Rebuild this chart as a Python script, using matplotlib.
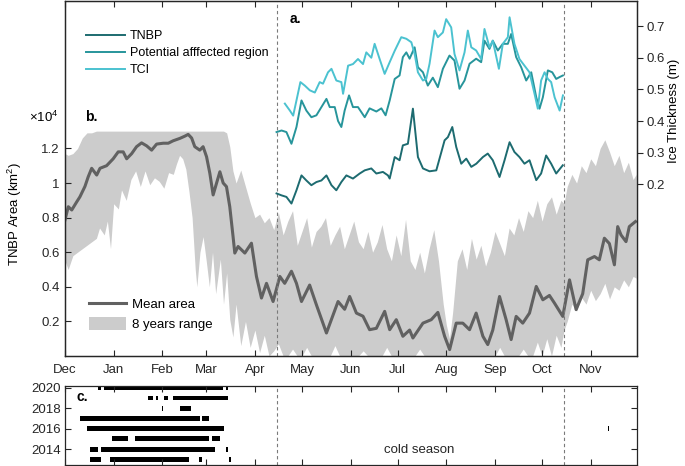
import matplotlib
matplotlib.use("Agg")
import matplotlib.pyplot as plt
import numpy as np

plt.rcParams['font.family'] = ['Liberation Sans', 'DejaVu Sans']
plt.rcParams['mathtext.fontset'] = 'custom'
plt.rcParams['mathtext.rm'] = 'Liberation Sans'

# days counted from 1 Dec
month_names = ["Dec", "Jan", "Feb", "Mar", "Apr", "May", "Jun",
               "Jul", "Aug", "Sep", "Oct", "Nov"]
month_start = [0, 31, 62, 90, 121, 151, 182, 212, 243, 274, 304, 335]
cold_start, cold_end = 135, 318

# TNBP area, x10^4 km2
mean_day = [0, 2.1, 4.3, 7.4, 9.5, 12.7, 14.8, 17, 20.2, 22.3, 26.5, 30.7, 33.9, 37.1,
            39.3, 42.5, 45.6, 48.8, 52, 55.2, 58.4, 62.6, 65.8, 68.9, 73.2, 76.4, 78.5,
            80.7, 82.7, 85.9, 88, 90.2, 92.3, 94.4, 96.6, 98.7, 100.8, 102.9, 105, 107.1,
            108.2, 110.3, 114.6, 118.8, 122, 125.2, 128.4, 132.6, 136.9, 140, 144.3,
            147.5, 150.7, 155.9, 160.2, 166.6, 174, 178.2, 181.4, 185.7, 189.9, 194.1,
            198.4, 203.7, 206.9, 211.1, 215.3, 219.6, 221.7, 228.1, 233.4, 237.6, 241.9,
            245.1, 249.3, 253.5, 257.8, 262, 266.3, 269.4, 272.6, 276.9, 281.1, 284.3,
            287.5, 291.7, 296, 300.3, 304.5, 308.7, 311.9, 317.2, 321.5, 325.7, 329.9,
            333.1, 337.4, 340.5, 343.7, 346.9, 350.1, 352.2, 354.3, 357.5, 359.6, 363.5]
mean_area = [0.787, 0.863, 0.844, 0.89, 0.92, 0.98, 1.036, 1.085, 1.046, 1.085, 1.10, 1.14,
             1.18, 1.18, 1.14, 1.17, 1.21, 1.232, 1.215, 1.19, 1.225, 1.23, 1.23, 1.244,
             1.258, 1.271, 1.281, 1.26, 1.21, 1.19, 1.21, 1.152, 1.056, 0.931, 1.0, 1.065,
             1.0, 0.979, 0.863, 0.69, 0.595, 0.633, 0.595, 0.652, 0.46, 0.335, 0.42,
             0.315, 0.46, 0.42, 0.49, 0.42, 0.315, 0.41, 0.296, 0.133, 0.315, 0.27, 0.344,
             0.248, 0.23, 0.152, 0.16, 0.258, 0.152, 0.21, 0.114, 0.15, 0.104, 0.19, 0.21,
             0.252, 0.114, 0.037, 0.19, 0.19, 0.152, 0.248, 0.114, 0.066, 0.15, 0.344,
             0.21, 0.095, 0.229, 0.19, 0.248, 0.402, 0.325, 0.35, 0.306, 0.229, 0.44,
             0.268, 0.36, 0.556, 0.575, 0.556, 0.681, 0.65, 0.527, 0.748, 0.70, 0.661,
             0.748, 0.777]

band_day = [0, 2, 5, 8, 11, 14, 17, 20, 22, 25, 27, 29, 31, 34, 36, 39, 42, 45, 48, 51,
            54, 57, 60, 63, 66, 69, 71, 73, 75, 77, 79, 81, 83, 84, 86, 88, 90, 92, 94,
            96, 99, 101, 103, 105, 107, 109, 112, 115, 118, 121, 124, 127, 130, 133, 136,
            139, 142, 145, 148, 151, 154, 157, 160, 163, 166, 169, 172, 175, 178, 181,
            184, 187, 190, 193, 196, 199, 202, 205, 208, 211, 214, 217, 220, 223, 226,
            229, 232, 235, 238, 241, 243, 245, 247, 250, 253, 256, 259, 262, 265, 268,
            271, 274, 277, 280, 283, 286, 289, 292, 295, 298, 301, 304, 307, 310, 313,
            316, 318, 320, 323, 326, 329, 332, 335, 338, 341, 344, 347, 350, 353, 356,
            359, 362, 364]
band_hi = [1.17, 1.16, 1.17, 1.20, 1.26, 1.29, 1.29, 1.30, 1.30, 1.30, 1.30, 1.30, 1.30,
           1.30, 1.30, 1.30, 1.30, 1.30, 1.30, 1.30, 1.30, 1.30, 1.30, 1.30, 1.30, 1.30,
           1.30, 1.30, 1.30, 1.30, 1.30, 1.30, 1.30, 1.30, 1.30, 1.30, 1.30, 1.30, 1.30,
           1.30, 1.30, 1.30, 1.29, 1.21, 1.07, 1.00, 1.075, 0.98, 0.885, 0.80, 0.82,
           0.77, 0.80, 0.73, 0.83, 0.70, 0.78, 0.84, 0.64, 0.72, 0.80, 0.63, 0.72, 0.75,
           0.80, 0.64, 0.70, 0.75, 0.62, 0.70, 0.78, 0.66, 0.62, 0.72, 0.60, 0.66, 0.76,
           0.62, 0.55, 0.70, 0.58, 0.79, 0.55, 0.50, 0.60, 0.48, 0.62, 0.73, 0.55, 0.30,
           0.18, 0.10, 0.25, 0.55, 0.62, 0.50, 0.68, 0.56, 0.64, 0.52, 0.60, 0.72, 0.65,
           0.58, 0.74, 0.70, 0.80, 0.72, 0.84, 0.80, 0.90, 0.78, 0.88, 0.92, 0.82, 0.90,
           0.88, 0.98, 1.05, 1.00, 1.10, 1.06, 1.14, 1.10, 1.20, 1.25, 1.18, 1.10, 1.16,
           1.06, 1.12, 1.02, 1.05]
band_lo = [0.55, 0.50, 0.58, 0.60, 0.62, 0.64, 0.66, 0.68, 0.74, 0.70, 0.78, 0.62, 0.88,
           0.85, 0.96, 0.90, 1.02, 1.07, 0.98, 1.07, 0.99, 1.03, 1.01, 0.97, 1.06, 1.05,
           1.11, 1.16, 1.14, 1.08, 0.95, 0.80, 0.50, 0.40, 0.60, 0.69, 0.55, 0.40, 0.60,
           0.36, 0.56, 0.30, 0.48, 0.21, 0.11, 0.30, 0.06, 0.20, 0.05, 0.15, 0.02, 0.12,
           0.0, 0.03, 0.07, 0.0, 0.0, 0.04, 0.0, 0.0, 0.05, 0.0, 0.0, 0.0, 0.0, 0.0, 0.06,
           0.0, 0.0, 0.0, 0.0, 0.0, 0.03, 0.0, 0.0, 0.0, 0.0, 0.05, 0.0, 0.0, 0.0, 0.0,
           0.0, 0.0, 0.04, 0.0, 0.0, 0.0, 0.0, 0.0, 0.0, 0.0, 0.0, 0.0, 0.0, 0.0, 0.0,
           0.0, 0.0, 0.0, 0.0, 0.0, 0.05, 0.0, 0.0, 0.0, 0.0, 0.04, 0.0, 0.0, 0.08, 0.0,
           0.10, 0.0, 0.12, 0.05, 0.15, 0.20, 0.30, 0.26, 0.34, 0.30, 0.38, 0.32, 0.36,
           0.42, 0.33, 0.40, 0.38, 0.44, 0.40, 0.46, 0.45]

# ice thickness, m
tnbp_day = [134.8, 137.9, 141.1, 144.3, 147.5, 150.7, 153.8, 157, 160.2, 163.4, 166.6,
            169.8, 172.9, 176.1, 179.3, 183.5, 187.8, 191, 195.2, 198.4, 202.6, 205.8,
            206.9, 210.1, 213.2, 215.3, 218.5, 221.7, 224.9, 228.1, 232.3, 236.6, 241.9,
            244, 246.8, 249.3, 252.5, 255.7, 258.9, 262.1, 266.3, 269.4, 272.6, 276.9,
            280.1, 283.3, 286.4, 289.6, 292.8, 296, 300.3, 303.4, 306.6, 309.8, 313, 317.2]
tnbp_thk = [0.171, 0.165, 0.16, 0.139, 0.181, 0.228, 0.212, 0.197, 0.207, 0.212, 0.228,
            0.197, 0.181, 0.207, 0.228, 0.218, 0.234, 0.244, 0.25, 0.234, 0.239, 0.228,
            0.218, 0.286, 0.276, 0.323, 0.328, 0.439, 0.286, 0.25, 0.241, 0.244, 0.339,
            0.349, 0.381, 0.318, 0.265, 0.281, 0.255, 0.265, 0.286, 0.297, 0.276, 0.223,
            0.276, 0.333, 0.302, 0.286, 0.265, 0.276, 0.213, 0.234, 0.291, 0.265, 0.234, 0.26]

par_day = [134.8, 138, 141.1, 144.3, 147.5, 150.7, 153.8, 157, 160.2, 163.4, 166.6, 168.7,
           171.9, 174, 176.1, 178.2, 181, 183.5, 186.7, 191, 194.1, 198.4, 201.6, 204.3,
           206.9, 210.1, 213.2, 215.3, 217.5, 219.6, 222.8, 224.9, 228.1, 231.2, 234.4,
           237.6, 240.8, 245, 248.2, 251.4, 254.6, 257.8, 262, 265.2, 267.3, 270.5, 272.6,
           275.8, 279, 282.2, 284.3, 287.5, 290.7, 293.9, 297.1, 300.3, 302.4, 304.5,
           307.7, 310.5, 313, 315.2, 317.3]
par_thk = [0.365, 0.37, 0.365, 0.328, 0.381, 0.465, 0.433, 0.412, 0.418, 0.444, 0.47, 0.444,
           0.444, 0.4, 0.381, 0.433, 0.481, 0.444, 0.444, 0.412, 0.44, 0.43, 0.44, 0.418,
           0.465, 0.533, 0.544, 0.602, 0.617, 0.597, 0.633, 0.57, 0.554, 0.512, 0.537,
           0.507, 0.565, 0.607, 0.591, 0.502, 0.528, 0.581, 0.597, 0.586, 0.654, 0.628,
           0.654, 0.623, 0.644, 0.644, 0.675, 0.602, 0.57, 0.528, 0.554, 0.475, 0.439,
           0.475, 0.56, 0.554, 0.533, 0.539, 0.544]

tci_day = [140.1, 143.3, 145.4, 147.5, 150, 152.8, 156, 159.2, 162.3, 164.4, 167.6, 169.8,
           172.9, 176.1, 177.2, 180.4, 183.5, 186.7, 189.9, 192, 195.2, 197.3, 200.5,
           203.7, 206.9, 210.1, 214.3, 217.5, 220.7, 222.8, 224.9, 228.1, 230.2, 232.3,
           235.5, 237.6, 240.8, 242.9, 246.1, 248.2, 251.4, 254.6, 256.7, 258.9, 262,
           265.2, 267.3, 270.5, 272.6, 276.5, 279, 282.2, 283.3, 286.4, 289.6, 292.8, 296,
           299.2, 301.3, 303.4, 305.6, 307.7, 309.8, 312, 315.2, 317.3]
tci_thk = [0.455, 0.433, 0.417, 0.465, 0.523, 0.512, 0.497, 0.49, 0.523, 0.518, 0.554,
           0.565, 0.528, 0.523, 0.486, 0.575, 0.58, 0.596, 0.58, 0.617, 0.60, 0.644, 0.596,
           0.549, 0.586, 0.622, 0.665, 0.66, 0.649, 0.612, 0.554, 0.528, 0.533, 0.581,
           0.686, 0.665, 0.68, 0.722, 0.696, 0.612, 0.56, 0.617, 0.686, 0.633, 0.623,
           0.596, 0.691, 0.633, 0.654, 0.565, 0.644, 0.665, 0.728, 0.644, 0.596, 0.575,
           0.554, 0.486, 0.439, 0.528, 0.554, 0.533, 0.523, 0.475, 0.433, 0.481]

# panel c: open periods per year (start day, length in days)
years = [2020, 2019, 2018, 2017, 2016, 2015, 2014, 2013]
periods = [
    [(21.2, 1.7), (25, 75.4), (102.9, 1)],
    [(53, 2.8), (58, 1), (62.8, 2.8), (68.7, 35.1)],
    [(61.7, 1), (73.4, 6.6)],
    [(9.8, 76.1), (87.6, 4.1)],
    [(13.8, 87.8), (345.9, 1)],
    [(29.9, 10), (44.8, 47.1), (93.8, 4.9)],
    [(15.9, 5.1), (22.9, 72.8), (102.9, 1)],
    [(15.9, 7), (28.8, 50.1), (85.5, 1.9), (104.8, 1)],
]

c_tnbp = '#1d6b70'
c_par = '#27959b'
c_tci = '#4bc2d0'
c_mean = '#616161'
c_band = '#cccccc'
c_axis = '#262626'
fs = 9.5

fig = plt.figure(figsize=(6.85, 4.66), dpi=100)
ax = fig.add_axes([65/685, 110/466, 572/685, 355.5/466])
axc = fig.add_axes([65/685, 1/466, 572/685, 79/466])
ax2 = ax.twinx()

ax.fill_between(band_day, band_lo, band_hi, color=c_band, lw=0, label='8 years range')
ax.plot(mean_day, mean_area, color=c_mean, lw=2.2, label='Mean area')
for a in (ax, axc):
    a.axvline(cold_start, color='#7a7a7a', lw=0.8, ls=(0, (3, 2.5)))
    a.axvline(cold_end, color='#7a7a7a', lw=0.8, ls=(0, (3, 2.5)))

ax2.plot(tnbp_day, tnbp_thk, color=c_tnbp, lw=1.4, label='TNBP')
ax2.plot(par_day, par_thk, color=c_par, lw=1.4, label='Potential afffected region')
ax2.plot(tci_day, tci_thk, color=c_tci, lw=1.4, label='TCI')

ax.set_xlim(0, 364.5)
ax.set_ylim(0, 2.055)
ax2.set_ylim(-0.343, 0.781)
ax.set_xticks(month_start)
ax.set_xticklabels(month_names)
ax.set_yticks([0.2, 0.4, 0.6, 0.8, 1.0, 1.2])
ax.set_yticklabels(['0.2', '0.4', '0.6', '0.8', '1', '1.2'])
ax2.set_yticks([0.2, 0.3, 0.4, 0.5, 0.6, 0.7])
ax2.set_yticklabels(['0.2', '0.3', '0.4', '0.5', '0.6', '0.7'])

ax.tick_params(axis='x', direction='in', top=True, length=4, width=0.8,
               pad=6, labelsize=fs, colors=c_axis)
ax.tick_params(axis='y', direction='in', length=4, width=0.8, pad=4,
               labelsize=fs, colors=c_axis)
ax2.tick_params(axis='y', direction='out', length=4, width=0.8, pad=3,
                labelsize=fs, colors=c_axis)
for a in (ax, ax2, axc):
    for s in a.spines.values():
        s.set_color(c_axis)
        s.set_linewidth(0.9)

ax.set_ylabel('TNBP Area (km$^2$)', fontsize=fs, va='center', ha='center')
ax.yaxis.set_label_coords(-0.088, 0.40)
ax2.set_ylabel('Ice Thickness (m)', fontsize=fs, va='center', ha='center')
ax2.yaxis.set_label_coords(1.064, 0.69)
ax.text(-0.012, 0.672, r'$\times10^4$', transform=ax.transAxes, ha='right',
        va='center', fontsize=fs)
ax.text(0.035, 0.672, 'b.', transform=ax.transAxes, ha='left', va='center',
        fontsize=10, fontweight='bold')
ax.text(0.392, 0.948, 'a.', transform=ax.transAxes, ha='left', va='center',
        fontsize=10, fontweight='bold')

leg1 = ax2.legend(loc='upper left', bbox_to_anchor=(0.028, 0.93), frameon=False,
                  fontsize=9, handlelength=3.1, handletextpad=0.4, labelspacing=0.38,
                  borderaxespad=0)
leg2 = ax.legend(handles=ax.get_legend_handles_labels()[0][::-1], loc='upper left',
                 bbox_to_anchor=(0.032, 0.18), frameon=False, fontsize=fs,
                 handlelength=2.8, handleheight=1.1, handletextpad=0.5,
                 labelspacing=0.45, borderaxespad=0)

# panel c
for yr, segs in zip(years, periods):
    axc.broken_barh(segs, (yr - 0.24, 0.48), facecolors='black', lw=0)
axc.set_xlim(0, 364.5)
axc.set_ylim(2012.45, 2020.17)
axc.set_xticks(month_start)
axc.set_xticklabels([])
axc.set_yticks([2014, 2016, 2018, 2020])
axc.tick_params(axis='both', direction='in', top=True, right=True, length=4,
                width=0.8, labelsize=fs, colors=c_axis, pad=3)
axc.text(0.02, 0.86, 'c.', transform=axc.transAxes, ha='left', va='center',
         fontsize=10, fontweight='bold')
axc.text(226, 2013.9, 'cold season', ha='center', va='center', fontsize=fs,
         color=c_axis)

fig.savefig('out.png', dpi=100)
